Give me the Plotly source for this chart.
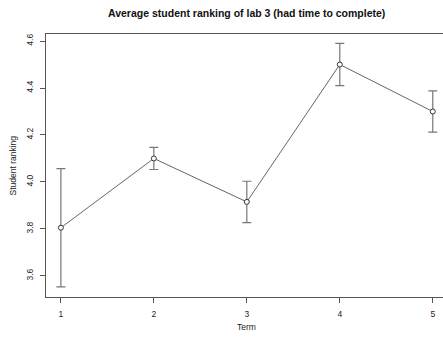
import plotly.graph_objects as go

terms = [1, 2, 3, 4, 5]
mean_ranking = [3.805, 4.10, 3.915, 4.50, 4.30]
err = [0.252, 0.047, 0.088, 0.09, 0.088]
y_ticks = [3.6, 3.8, 4.0, 4.2, 4.4, 4.6]
y_tick_labels = ["3.6", "3.8", "4.0", "4.2", "4.4", "4.6"]

axis_col = "#555555"
font = "Liberation Sans, Arial, Helvetica, sans-serif"

fig = go.Figure()
fig.add_trace(go.Scatter(
    x=terms, y=mean_ranking, mode="lines+markers",
    line=dict(color="#666666", width=1),
    marker=dict(symbol="circle", size=5, color="white", line=dict(color="#333333", width=1)),
    error_y=dict(type="data", array=err, visible=True, color="#777777", thickness=1.2, width=4.5),
    showlegend=False,
))

fig.update_layout(
    width=443, height=337,
    margin=dict(l=46, r=0, t=34, b=40),
    paper_bgcolor="white", plot_bgcolor="white",
    font=dict(family=font, size=8.5, color="#222222"),
    xaxis=dict(range=[0.84, 5.11], tickvals=terms, ticktext=[str(t) for t in terms],
               showgrid=False, zeroline=False, showline=True, mirror=True,
               linecolor=axis_col, linewidth=1, ticks="outside", ticklen=5,
               tickcolor=axis_col, tickfont=dict(size=8.5, color="#222222"), ticklabelstandoff=4),
    yaxis=dict(range=[3.51, 4.63], tickvals=y_ticks, ticktext=y_tick_labels,
               showgrid=False, zeroline=False, showline=True, mirror=True,
               linecolor=axis_col, linewidth=1, ticks="outside", ticklen=5,
               tickcolor=axis_col, tickangle=-90, tickfont=dict(size=8.5, color="#222222"),
               ticklabelstandoff=4),
    annotations=[
        dict(text="<b>Average student ranking of lab 3 (had time to complete)</b>",
             xref="paper", yref="paper", x=0.506, y=(337 - 13 - 40) / 263,
             xanchor="center", yanchor="middle", showarrow=False, font=dict(size=10.5, color="#111111")),
        dict(text="Term", xref="paper", yref="paper", x=0.506, y=-(327 - 297) / 263,
             xanchor="center", yanchor="middle", showarrow=False, font=dict(size=8.5)),
        dict(text="Student ranking", xref="paper", yref="paper", x=-(46 - 12) / 397, y=0.5,
             xanchor="center", yanchor="middle", textangle=-90, showarrow=False, font=dict(size=8.5)),
    ],
)

fig.write_html("out.html", config={"displayModeBar": False},
               post_script="document.body.style.margin='0';")
